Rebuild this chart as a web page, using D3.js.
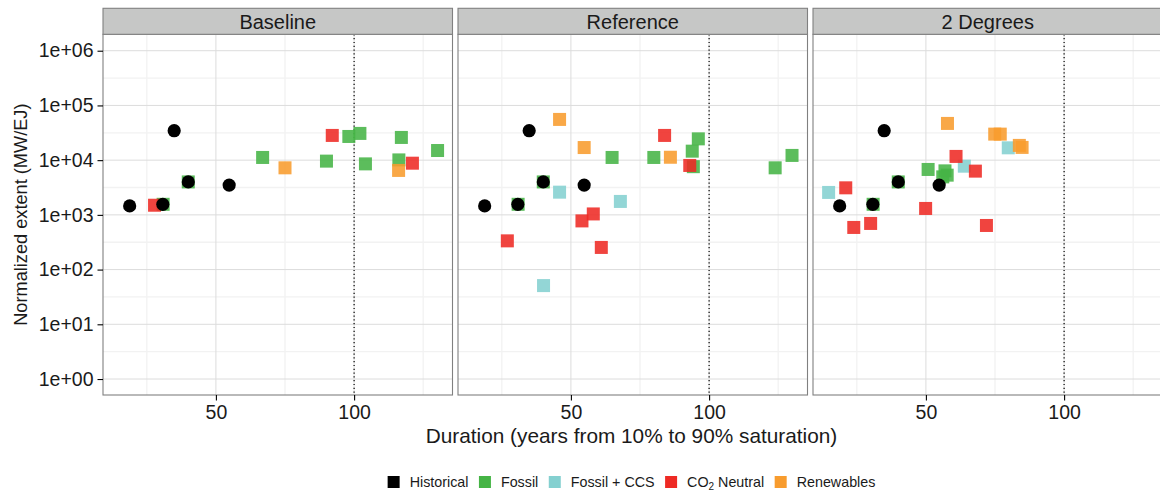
<!DOCTYPE html>
<html>
<head>
<meta charset="utf-8">
<script src="https://cdn.jsdelivr.net/npm/d3@7"></script>
<style>
  body { margin: 0; background: #fff; }
  text { font-family: "Liberation Sans", Arial, Helvetica, sans-serif; }
</style>
</head>
<body>
<div id="chart"></div>
<script>
// facets + categories
const scenarios = ["Baseline", "Reference", "2 Degrees"];
const techs = ["Historical", "Fossil", "Fossil + CCS", "CO2 Neutral", "Renewables"];
const techColors = ["#000000", "#45b445", "#84d0d0", "#ee2a24", "#f89c2e"];

// historical points (same in every panel): [duration, extent]
const historical = [[18.8, 1460], [30.8, 1560], [34.9, 34500], [40.0, 4000], [54.8, 3500]];

// model points: [tech, duration, extent]
const baseline = [
  ["Fossil", 30.9, 1560], ["Fossil", 40.0, 4000], ["Fossil", 66.9, 11200], ["Fossil", 90.0, 9600],
  ["Fossil", 98.1, 27100], ["Fossil", 102.1, 30800], ["Fossil", 104.1, 8550], ["Fossil", 117.1, 26000],
  ["Fossil", 116.2, 10100], ["Fossil", 130.2, 15000],
  ["CO2 Neutral", 27.8, 1500], ["CO2 Neutral", 92.1, 28300], ["CO2 Neutral", 121.1, 8800],
  ["Renewables", 75.0, 7240], ["Renewables", 116.1, 6490]
];
const reference = [
  ["Fossil", 30.9, 1560], ["Fossil", 40.0, 4000], ["Fossil", 64.9, 11200], ["Fossil", 80.0, 11200],
  ["Fossil", 93.9, 14600], ["Fossil", 96.1, 24500], ["Fossil", 94.3, 7600], ["Fossil", 123.9, 7240],
  ["Fossil", 130.0, 12200],
  ["Fossil + CCS", 45.9, 2600], ["Fossil + CCS", 67.9, 1760], ["Fossil + CCS", 40.1, 51],
  ["CO2 Neutral", 83.9, 28300], ["CO2 Neutral", 93.0, 8000], ["CO2 Neutral", 54.0, 776],
  ["CO2 Neutral", 58.1, 1040], ["CO2 Neutral", 27.0, 335], ["CO2 Neutral", 61.0, 254],
  ["Renewables", 45.9, 55500], ["Renewables", 54.8, 17000], ["Renewables", 86.0, 11300]
];
const twoDegrees = [
  ["Fossil", 30.9, 1560], ["Fossil", 40.0, 4000], ["Fossil", 50.8, 6760], ["Fossil", 56.9, 6370],
  ["Fossil", 57.7, 5320], ["Fossil", 56.1, 4950],
  ["Fossil + CCS", 79.8, 16800], ["Fossil + CCS", 63.9, 7760], ["Fossil + CCS", 14.8, 2570],
  ["CO2 Neutral", 60.9, 11700], ["CO2 Neutral", 67.9, 6300], ["CO2 Neutral", 21.0, 3120],
  ["CO2 Neutral", 49.9, 1310], ["CO2 Neutral", 30.0, 697], ["CO2 Neutral", 23.9, 589],
  ["CO2 Neutral", 71.9, 640],
  ["Renewables", 57.8, 46900], ["Renewables", 74.9, 29900], ["Renewables", 76.9, 29900],
  ["Renewables", 83.8, 18600], ["Renewables", 84.8, 17100]
];
const panelData = [baseline, reference, twoDegrees];

const xMajor = [50, 100];
const xMinor = [25, 75, 125];
const yMajor = [1, 10, 100, 1000, 10000, 100000, 1000000];
const yMinor = [Math.sqrt(10), Math.sqrt(1000), Math.sqrt(1e5), Math.sqrt(1e7), Math.sqrt(1e9), Math.sqrt(1e11)];
const saturationLine = 100;

const W = 1160, H = 491;
const panelLeft = 103, panelW = 349.5, panelGap = 5.5;
const stripTop = 8.3, stripH = 26, panelTop = 34.3, panelBottom = 395;

const color = d3.scaleOrdinal().domain(techs).range(techColors);
const x = d3.scaleLinear().domain([9.15, 135.6]).range([0, panelW]);
const y = d3.scaleLog().domain([Math.pow(10, -0.292), Math.pow(10, 6.30)]).range([panelBottom, panelTop]);

const svg = d3.select("#chart").append("svg")
  .attr("width", W)
  .attr("height", H);

scenarios.forEach((name, i) => {
  const g = svg.append("g")
    .attr("transform", `translate(${panelLeft + i * (panelW + panelGap)},0)`);

  // clip for the panel
  g.append("clipPath").attr("id", "clip" + i)
    .append("rect").attr("x", 0).attr("y", panelTop).attr("width", panelW).attr("height", panelBottom - panelTop);

  g.append("rect")
    .attr("x", 0).attr("y", panelTop)
    .attr("width", panelW).attr("height", panelBottom - panelTop)
    .attr("fill", "#fff");

  const grid = g.append("g").attr("clip-path", `url(#clip${i})`);
  grid.selectAll(".ymin").data(yMinor).join("line")
    .attr("x1", 0).attr("x2", panelW)
    .attr("y1", d => y(d)).attr("y2", d => y(d))
    .attr("stroke", "#f2f2f2").attr("stroke-width", 1.3);
  grid.selectAll(".xmin").data(xMinor).join("line")
    .attr("x1", d => x(d)).attr("x2", d => x(d))
    .attr("y1", panelTop).attr("y2", panelBottom)
    .attr("stroke", "#f2f2f2").attr("stroke-width", 1.3);
  grid.selectAll(".ymaj").data(yMajor).join("line")
    .attr("x1", 0).attr("x2", panelW)
    .attr("y1", d => y(d)).attr("y2", d => y(d))
    .attr("stroke", "#dcdcdc").attr("stroke-width", 1);
  grid.selectAll(".xmaj").data(xMajor).join("line")
    .attr("x1", d => x(d)).attr("x2", d => x(d))
    .attr("y1", panelTop).attr("y2", panelBottom)
    .attr("stroke", "#dcdcdc").attr("stroke-width", 1);

  // dotted line at 100 years
  grid.append("line")
    .attr("x1", x(saturationLine)).attr("x2", x(saturationLine))
    .attr("y1", panelTop).attr("y2", panelBottom)
    .attr("stroke", "#000").attr("stroke-width", 1.2)
    .attr("stroke-dasharray", "1.2,2.6");

  // squares
  const rows = techs.slice(1).flatMap(t => panelData[i].filter(d => d[0] === t));
  const s = 13;
  grid.selectAll(".pt").data(rows).join("rect")
    .attr("x", d => x(d[1]) - s / 2)
    .attr("y", d => y(d[2]) - s / 2)
    .attr("width", s).attr("height", s)
    .attr("fill", d => color(d[0]))
    .attr("fill-opacity", 0.88);

  // historical circles on top
  grid.selectAll(".hist").data(historical).join("circle")
    .attr("cx", d => x(d[0]))
    .attr("cy", d => y(d[1]))
    .attr("r", 6.6)
    .attr("fill", color("Historical"));

  // border
  g.append("rect")
    .attr("x", 0).attr("y", panelTop)
    .attr("width", panelW).attr("height", panelBottom - panelTop)
    .attr("fill", "none").attr("stroke", "#808080").attr("stroke-width", 1.1);

  // strip
  g.append("rect")
    .attr("x", 0).attr("y", stripTop)
    .attr("width", panelW).attr("height", stripH)
    .attr("fill", "#c6c7c6").attr("stroke", "#808080").attr("stroke-width", 1.1);
  g.append("text")
    .attr("x", panelW / 2).attr("y", stripTop + 20.5)
    .attr("text-anchor", "middle")
    .attr("font-size", 20).attr("fill", "#1a1a1a")
    .text(name);

  // x axis
  const xa = g.append("g")
    .attr("transform", `translate(0,${panelBottom})`)
    .call(d3.axisBottom(x).tickValues(xMajor).tickSize(5.5).tickPadding(5).tickFormat(d3.format("d")));
  xa.select(".domain").remove();
  xa.selectAll("line").attr("stroke", "#000").attr("stroke-width", 1.1);
  xa.selectAll("text").attr("font-size", 19.5).attr("fill", "#1a1a1a")
    .attr("font-family", "Liberation Sans, Arial, sans-serif");

  if (i === 0) {
    const ya = g.append("g")
      .call(d3.axisLeft(y).tickValues(yMajor).tickSize(5.5).tickPadding(4)
        .tickFormat(d => "1e+0" + Math.round(Math.log10(d))));
    ya.select(".domain").remove();
    ya.selectAll("line").attr("stroke", "#000").attr("stroke-width", 1.1);
    ya.selectAll("text").attr("font-size", 19.5).attr("fill", "#1a1a1a")
      .attr("font-family", "Liberation Sans, Arial, sans-serif");
  }
});

const plotCenter = (panelLeft + 1160) / 2;

svg.append("text")
  .attr("x", plotCenter).attr("y", 443)
  .attr("text-anchor", "middle")
  .attr("font-size", 20.8).attr("fill", "#1a1a1a")
  .text("Duration (years from 10% to 90% saturation)");

svg.append("text")
  .attr("transform", `translate(27,${(panelTop + panelBottom) / 2}) rotate(-90)`)
  .attr("text-anchor", "middle")
  .attr("font-size", 18.2).attr("fill", "#1a1a1a")
  .text("Normalized extent (MW/EJ)");

// legend
const legend = svg.append("g");
const keyS = 12, keyGap = 10, itemGap = 10.5, legY = 482;
let lx = 0;
techs.forEach((t, k) => {
  const item = legend.append("g").attr("transform", `translate(${lx},0)`);
  item.append("rect")
    .attr("x", 0).attr("y", legY - keyS / 2)
    .attr("width", keyS).attr("height", keyS)
    .attr("fill", color(t));
  const label = item.append("text")
    .attr("x", keyS + keyGap).attr("y", legY + 5)
    .attr("font-size", 14.3).attr("fill", "#1a1a1a");
  if (t === "CO2 Neutral") {
    label.append("tspan").text("CO");
    label.append("tspan").attr("font-size", 10).attr("dy", 3).text("2");
    label.append("tspan").attr("dy", -3).text(" Neutral");
  } else {
    label.text(t);
  }
  lx += keyS + keyGap + label.node().getComputedTextLength() + itemGap;
});
const legW = lx - itemGap;
legend.attr("transform", `translate(${plotCenter - legW / 2},0)`);
</script>
</body>
</html>
